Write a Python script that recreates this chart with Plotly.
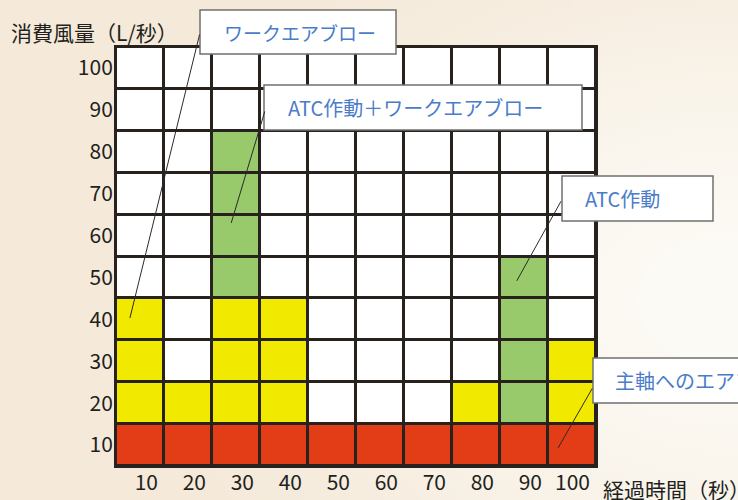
import base64
import struct
import zlib

import numpy as np
import plotly.graph_objects as go

# ---------------- data ----------------
times = [10, 20, 30, 40, 50, 60, 70, 80, 90, 100]          # 経過時間(秒)
levels = [10, 20, 30, 40, 50, 60, 70, 80, 90, 100]         # 消費風量(L/秒)
spindle_blow = [10, 10, 10, 10, 10, 10, 10, 10, 10, 10]    # 主軸へのエアブロー
work_blow = [30, 10, 30, 30, 0, 0, 0, 10, 0, 20]           # ワークエアブロー
atc_blow = [0, 0, 40, 0, 0, 0, 0, 0, 40, 0]                # ATC作動

x_ticktext = [str(t) for t in times]
y_ticktext = [str(v) for v in levels]

# ---------------- layout constants ----------------
W, H = 738, 500
ML, MR, MT, MB = 116, 142, 47, 34
PW, PH = W - ML - MR, H - MT - MB

FONT = "Noto Sans CJK JP"
DARK = "#231f1c"
BLUE = "#4a7cc9"


def px_x(p):
    return (p - ML) / PW


def px_y(p):
    return (H - MB - p) / PH


def bg_png():
    w, h = 185, 125
    ys, xs = np.mgrid[0:h, 0:w].astype(float)
    px, py = xs * 4, ys * 4
    d = np.sqrt(((px - 730) / 640) ** 2 + ((py - 300) / 470) ** 2)
    t = np.clip(d, 0, 1)
    t = t * t * (3 - 2 * t)
    light = np.array([253, 251, 246], float)
    beige = np.array([245, 234, 218], float)
    img = (light * (1 - t[..., None]) + beige * t[..., None]).astype(np.uint8)
    raw = b"".join(b"\x00" + img[r].tobytes() for r in range(h))

    def chunk(tag, data):
        return (struct.pack(">I", len(data)) + tag + data
                + struct.pack(">I", zlib.crc32(tag + data) & 0xFFFFFFFF))

    png = (b"\x89PNG\r\n\x1a\n"
           + chunk(b"IHDR", struct.pack(">IIBBBBB", w, h, 8, 2, 0, 0, 0))
           + chunk(b"IDAT", zlib.compress(raw))
           + chunk(b"IEND", b""))
    return "data:image/png;base64," + base64.b64encode(png).decode()


# ---------------- grid codes from the series ----------------
z = []
for lvl in levels:
    row = []
    for s, w_, a in zip(spindle_blow, work_blow, atc_blow):
        if lvl <= s:
            code = 1
        elif lvl <= s + w_:
            code = 2
        elif lvl <= s + w_ + a:
            code = 3
        else:
            code = 0
        row.append(code)
    z.append(row)

colors = ["#ffffff", "#e33d17", "#f2e900", "#98c96a"]
colorscale = [[0, colors[0]], [1 / 3, colors[1]], [2 / 3, colors[2]], [1, colors[3]]]

fig = go.Figure(go.Heatmap(
    x=times, y=levels, z=z, zmin=0, zmax=3,
    colorscale=colorscale, showscale=False,
    xgap=3, ygap=3, hoverinfo="skip",
))

# ---------------- callouts ----------------
boxes = [  # (left, top, right, bottom) px
    (200, 10, 396, 54),
    (264, 85, 582, 130),
    (562, 176, 713, 221),
    (593, 358, 770, 403),
]
labels = ["ワークエアブロー", "ATC作動＋ワークエアブロー", "ATC作動", "主軸へのエアブロー"]
label_left = [222, 286, 583, 613]
label_size = [19, 20, 20, 20]

shapes = [dict(type="rect", xref="paper", yref="paper", x0=0, x1=1, y0=0, y1=1,
               fillcolor="#28221f", line=dict(width=0), layer="below")]
annotations = []
for (l, t, r, b), txt, tl, fs in zip(boxes, labels, label_left, label_size):
    shapes.append(dict(type="rect", xref="paper", yref="paper",
                       x0=px_x(l), x1=px_x(r), y0=px_y(b), y1=px_y(t),
                       fillcolor="#ffffff", line=dict(color="#707070", width=1.5),
                       layer="above"))
    annotations.append(dict(xref="paper", yref="paper", x=px_x(tl), y=px_y((t + b) / 2),
                            xanchor="left", yanchor="middle", showarrow=False, text=txt,
                            font=dict(family=FONT, size=fs, color=BLUE)))

# leader lines: (target x, target y in data units, pixel offset to start)
leaders = [
    (7.9, 40.3, 70, -285),
    (29.0, 63.0, 34, -113),
    (88.5, 49.2, 45, -81),
    (97.1, 9.3, 35, -61),
]
for x, y, ax, ay in leaders:
    annotations.append(dict(x=x, y=y, xref="x", yref="y", ax=ax, ay=ay, text="",
                            showarrow=True, arrowhead=0, arrowwidth=1,
                            arrowcolor="#2a2a2a", standoff=0, startstandoff=0))

# axis titles
annotations.append(dict(xref="paper", yref="paper", x=px_x(9), y=px_y(32),
                        xanchor="left", yanchor="middle", showarrow=False,
                        text="消費風量（L/秒）",
                        font=dict(family=FONT, size=21, color=DARK)))
annotations.append(dict(xref="paper", yref="paper", x=px_x(601), y=px_y(489),
                        xanchor="left", yanchor="middle", showarrow=False,
                        text="経過時間（秒）",
                        font=dict(family=FONT, size=21, color=DARK)))

axis_common = dict(range=[5, 105], showgrid=False, zeroline=False, showline=True,
                   mirror=True, linewidth=2, linecolor="#28221f", ticks="",
                   automargin=False,
                   tickfont=dict(family=FONT, size=21, color=DARK), fixedrange=True)

fig.update_layout(
    width=W, height=H,
    margin=dict(l=ML, r=MR, t=MT, b=MB, pad=0, autoexpand=False),
    paper_bgcolor="#f8f2e8",
    plot_bgcolor="#28221f",
    showlegend=False,
    xaxis=dict(tickvals=times, ticktext=x_ticktext,
               ticklabelposition="outside left", ticklabelshift=19,
               ticklabelstandoff=-3, **axis_common),
    yaxis=dict(tickvals=levels, ticktext=y_ticktext, ticklabelstandoff=-3,
               **axis_common),
    shapes=shapes,
    annotations=annotations,
    images=[dict(source=bg_png(), xref="paper", yref="paper",
                 x=-ML / PW, y=1 + MT / PH, sizex=W / PW, sizey=H / PH,
                 xanchor="left", yanchor="top", sizing="stretch", layer="below")],
)

fig.write_html("out.html", config={"displayModeBar": False})
